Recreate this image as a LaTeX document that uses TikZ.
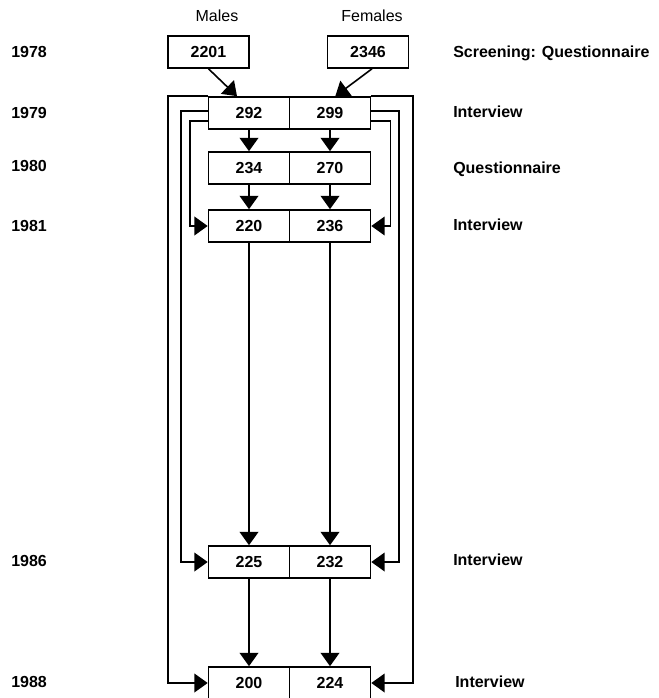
\documentclass[tikz,border=0pt]{standalone}
\usepackage{fontspec}
\setmainfont{Liberation Sans}
\usetikzlibrary{arrows.meta}
\begin{document}
\begin{tikzpicture}[x=0.75pt,y=-0.75pt,
  box/.style={draw,line width=1.2pt,minimum width=60.75pt,minimum height=24pt,inner sep=0pt,
    font=\bfseries\fontsize{12}{14}\selectfont,text height=8.6pt,text depth=0pt},
  lbl/.style={anchor=west,inner sep=0pt,font=\bfseries\fontsize{12}{14}\selectfont,text height=8.6pt,text depth=0pt},
  hd/.style={inner sep=0pt,font=\fontsize{12}{14}\selectfont,text height=8.6pt,text depth=0pt},
  arr/.style={line width=1.2pt,-{Triangle[length=10pt,width=14pt]}}]
\useasboundingbox (0,0) rectangle (658,698);

% column headings
\node[hd] (hm) at (217,16) {Males};
\node[hd] (hf) at (372,16) {Females};

% year labels
\node[lbl] (y78) at (11,52) {1978};
\node[lbl] (y79) at (11,113) {1979};
\node[lbl] (y80) at (11,166) {1980};
\node[lbl] (y81) at (11,226) {1981};
\node[lbl] (y86) at (11,561) {1986};
\node[lbl] (y88) at (11,682) {1988};

% right labels
\node[lbl] (r78) at (453,52) {Screening: Questionnaire};
\node[lbl] (r79) at (453,112) {Interview};
\node[lbl] (r80) at (453,168) {Questionnaire};
\node[lbl] (r81) at (453,225) {Interview};
\node[lbl] (r86) at (453,560) {Interview};
\node[lbl] (r88) at (455,682) {Interview};

% boxes
\node[box] (t78m) at (208.5,52) {2201};
\node[box] (t78f) at (368,52) {2346};
\node[box] (m79) at (249,113) {292};
\node[box] (f79) at (330,113) {299};
\node[box] (m80) at (249,168) {234};
\node[box] (f80) at (330,168) {270};
\node[box] (m81) at (249,226) {220};
\node[box] (f81) at (330,226) {236};
\node[box] (m86) at (249,562) {225};
\node[box] (f86) at (330,562) {232};
\node[box] (m88) at (249,683) {200};
\node[box] (f88) at (330,683) {224};

% screening arrows
\draw[arr] (t78m.south) -- ([xshift=-9pt]m79.north);
\draw[arr] ([xshift=3pt]t78f.south) -- ([xshift=4pt]f79.north);

% vertical arrows
\draw[arr] (m79) -- (m80);
\draw[arr] (f79) -- (f80);
\draw[arr] (m80) -- (m81);
\draw[arr] (f80) -- (f81);
\draw[arr] (m81) -- (m86);
\draw[arr] (f81) -- (f86);
\draw[arr] (m86) -- (m88);
\draw[arr] (f86) -- (f88);

% bypass loops, left
\draw[arr] ([yshift=-6pt]m79.west) -- ++(-18,0) |- (m81.west);
\draw[arr] ([yshift=1.5pt]m79.west) -- ++(-27,0) |- (m86.west);
\draw[arr] (m79.north west) -- ++(-40,0) |- (m88.west);

% bypass loops, right
\draw[arr] ([yshift=-6pt]f79.east) -- ++(19,0) |- (f81.east);
\draw[arr] ([yshift=1.5pt]f79.east) -- ++(27.5,0) |- (f86.east);
\draw[arr] (f79.north east) -- ++(41.5,0) |- (f88.east);
\end{tikzpicture}
\end{document}
